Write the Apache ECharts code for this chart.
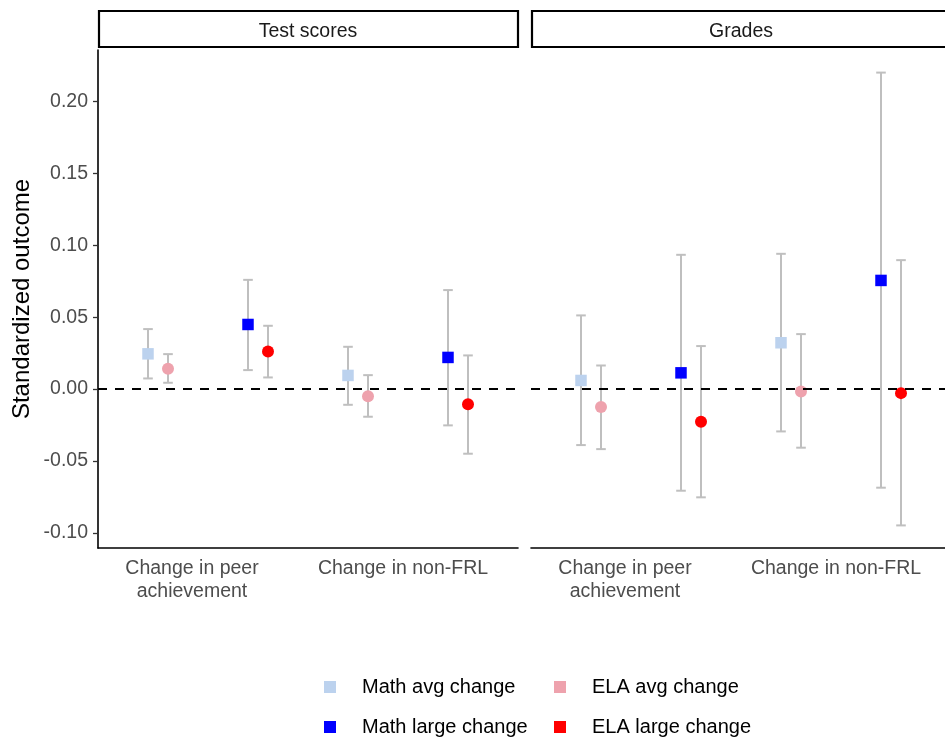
<!DOCTYPE html>
<html>
<head>
<meta charset="utf-8">
<script src="https://cdn.jsdelivr.net/npm/echarts@6/dist/echarts.min.js"></script>
<style>
  html, body { margin: 0; padding: 0; background: #fff; }
  #chart { width: 945px; height: 740px; }
</style>
</head>
<body>
<div id="chart"></div>
<script>
// Facet panels and x categories
const panels = ['Test scores', 'Grades'];
const categories = ['Change in peer\nachievement', 'Change in non-FRL'];
const groups = ['Math avg change', 'ELA avg change', 'Math large change', 'ELA large change'];
const yTicks = [-0.10, -0.05, 0.00, 0.05, 0.10, 0.15, 0.20];

// Estimates with confidence bounds: [estimate, lower, upper] per category
const testMathAvg   = [[0.0245, 0.0074, 0.0417], [0.0095, -0.0109, 0.0294]];
const testElaAvg    = [[0.0141, 0.0044, 0.0243], [-0.0049, -0.0192, 0.0097]];
const testMathLarge = [[0.0449, 0.0132, 0.0759], [0.0220, -0.0252, 0.0688]];
const testElaLarge  = [[0.0262, 0.0081, 0.0440], [-0.0106, -0.0449, 0.0234]];

const gradesMathAvg   = [[0.0060, -0.0389, 0.0512], [0.0322, -0.0294, 0.0940]];
const gradesElaAvg    = [[-0.0125, -0.0417, 0.0164], [-0.0016, -0.0407, 0.0382]];
const gradesMathLarge = [[0.0113, -0.0706, 0.0933], [0.0755, -0.0685, 0.2199]];
const gradesElaLarge  = [[-0.0227, -0.0752, 0.0299], [-0.0028, -0.0947, 0.0896]];

const panelData = [
  [testMathAvg, testElaAvg, testMathLarge, testElaLarge],
  [gradesMathAvg, gradesElaAvg, gradesMathLarge, gradesElaLarge]
];

// Styling and layout
const FONT = '"Liberation Sans", Arial, sans-serif';
const groupColors = ['#BCD2EE', '#EEA2AD', '#0000FF', '#FF0000'];
const groupSymbols = ['rect', 'circle', 'rect', 'circle'];
const dodge = [-0.3, -0.2, 0.2, 0.3];
const labelShift = [-0.08, -0.025];
const X_MIN = 0.45, PX_PER_UNIT = 200;
const Y_MIN = -0.1104, Y_MAX = 0.2356;
const PANEL_TOP = 50, PANEL_H = 498;
const CHART_W = 945;
const panelLeft = [98, 531];
const panelWidth = [420, CHART_W - 531];   // the second panel runs off the right edge
const STRIP_TOP = 11, STRIP_H = 36, STRIP_W = 420;

const grids = panelLeft.map((l, i) => ({ left: l, top: PANEL_TOP, width: panelWidth[i], height: PANEL_H, containLabel: false }));

const labelValues = categories.map((c, i) => i + 1 + labelShift[i]);

const xAxes = panels.map((p, i) => ({
  type: 'value', gridIndex: i, min: X_MIN, max: X_MIN + panelWidth[i] / PX_PER_UNIT,
  splitLine: { show: false },
  axisLine: { show: true, onZero: false, lineStyle: { color: '#000', width: 1.6 } },
  axisTick: { show: false },
  axisLabel: {
    customValues: labelValues,
    formatter: v => {
      const idx = labelValues.findIndex(t => Math.abs(t - v) < 1e-6);
      return idx >= 0 ? categories[idx] : '';
    },
    color: '#4D4D4D', fontSize: 19.5, fontFamily: FONT, margin: 9, lineHeight: 23
  }
}));

const yAxes = panels.map((p, i) => ({
  type: 'value', gridIndex: i, min: Y_MIN, max: Y_MAX,
  splitLine: { show: false },
  name: i === 0 ? 'Standardized outcome' : '',
  nameLocation: 'middle', nameRotate: 90, nameGap: 64,
  nameTextStyle: { color: '#000', fontSize: 24, fontFamily: FONT },
  axisLine: { show: i === 0, onZero: false, lineStyle: { color: '#000', width: 1.6 } },
  axisTick: { show: i === 0, length: 5, customValues: yTicks, lineStyle: { color: '#333', width: 1.3 } },
  axisLabel: {
    show: i === 0, customValues: yTicks,
    formatter: v => v.toFixed(2),
    color: '#4D4D4D', fontSize: 19.5, fontFamily: FONT, margin: 10
  }
}));

function renderErrorBar(params, api) {
  const x = api.value(0), lo = api.value(1), hi = api.value(2);
  const a = api.coord([x, lo]), b = api.coord([x, hi]);
  const cap = 4.8;
  const style = { stroke: '#BFBFBF', lineWidth: 2 };
  return {
    type: 'group',
    children: [
      { type: 'line', shape: { x1: a[0], y1: a[1], x2: b[0], y2: b[1] }, style },
      { type: 'line', shape: { x1: a[0] - cap, y1: a[1], x2: a[0] + cap, y2: a[1] }, style },
      { type: 'line', shape: { x1: b[0] - cap, y1: b[1], x2: b[0] + cap, y2: b[1] }, style }
    ]
  };
}

const series = [];
panels.forEach((p, pi) => {
  panelData[pi].forEach((rows, gi) => {
    series.push({
      type: 'custom', name: groups[gi] + ' CI', xAxisIndex: pi, yAxisIndex: pi, z: 2,
      renderItem: renderErrorBar, encode: { x: 0, y: [1, 2] },
      data: rows.map((r, ci) => [ci + 1 + dodge[gi], r[1], r[2]]),
      silent: true
    });
  });
  // zero reference line
  series.push({
    type: 'line', xAxisIndex: pi, yAxisIndex: pi, z: 3, data: [], silent: true,
    markLine: {
      silent: true, symbol: 'none', animation: false,
      label: { show: false },
      lineStyle: { color: '#000', width: 2, type: [9, 8] },
      data: [{ yAxis: 0 }]
    }
  });
  panelData[pi].forEach((rows, gi) => {
    series.push({
      type: 'scatter', name: groups[gi], xAxisIndex: pi, yAxisIndex: pi, z: 4,
      symbol: groupSymbols[gi], symbolSize: groupSymbols[gi] === 'rect' ? 11.5 : 12,
      itemStyle: { color: groupColors[gi], opacity: 1 },
      data: rows.map((r, ci) => [ci + 1 + dodge[gi], r[0]])
    });
  });
});

// Facet strips
const graphic = [];
panels.forEach((p, i) => {
  graphic.push({
    type: 'rect', silent: true,
    shape: { x: panelLeft[i] + 1, y: STRIP_TOP, width: STRIP_W - 1, height: STRIP_H },
    style: { fill: '#fff', stroke: '#000', lineWidth: 2.2 }
  });
  graphic.push({
    type: 'text', silent: true,
    x: panelLeft[i] + STRIP_W / 2, y: STRIP_TOP + STRIP_H / 2 + 3,
    style: { text: p, fill: '#1A1A1A', font: '19.5px ' + FONT, align: 'center', verticalAlign: 'middle' }
  });
});

// Legend: 2 x 2 layout
const legendPos = [[324, 677], [554, 677], [324, 717], [554, 717]];
const legends = groups.map((g, i) => ({
  data: [g], left: legendPos[i][0], top: legendPos[i][1], padding: 0,
  icon: 'rect', itemWidth: 12, itemHeight: 12, selectedMode: false,
  textStyle: { color: '#000', fontSize: 20, fontFamily: FONT, padding: [0, 0, 0, 21], lineHeight: 20 }
}));

const chart = echarts.init(document.getElementById('chart'), null, { renderer: 'canvas' });
chart.setOption({
  animation: false,
  backgroundColor: '#fff',
  textStyle: { fontFamily: FONT },
  grid: grids,
  xAxis: xAxes,
  yAxis: yAxes,
  legend: legends,
  graphic,
  series
});
</script>
</body>
</html>
